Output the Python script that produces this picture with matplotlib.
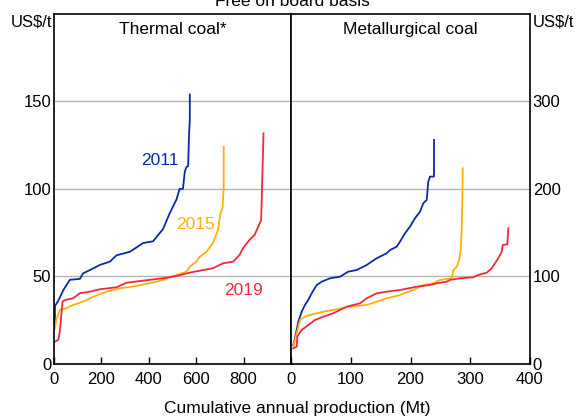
import matplotlib
matplotlib.use("Agg")
import matplotlib.pyplot as plt

plt.rcParams['font.family'] = ['Liberation Sans', 'DejaVu Sans']

# ---- Data (cumulative production Mt, cost US$/t) ----
thermal_2011_x = [4, 4, 18, 39, 67, 109, 123, 152, 194, 236, 264, 320, 376, 418, 460, 488, 517, 530, 544, 552, 559, 566, 570, 573, 573]
thermal_2011_y = [21, 33, 36, 42, 48, 48.5, 51.7, 53.6, 56.5, 58.4, 62, 64, 69, 70, 77, 86, 94, 100, 100, 110, 112.5, 113, 132, 139, 154]

thermal_2015_x = [4, 11, 25, 53, 81, 123, 165, 222, 278, 348, 404, 460, 517, 559, 573, 601, 615, 643, 671, 692, 702, 711, 716, 716]
thermal_2015_y = [20, 26, 30.7, 31.7, 33.6, 35.5, 38.3, 41.2, 43.1, 44.5, 46, 47.9, 50.7, 52.6, 55.5, 58.4, 61.2, 64, 69, 76.5, 86, 89, 101, 124]

thermal_2019_x = [4, 18, 25, 36, 46, 81, 109, 152, 194, 264, 306, 376, 460, 517, 573, 615, 671, 713, 756, 783, 797, 825, 846, 856, 867, 874, 878, 881, 884]
thermal_2019_y = [12.6, 13.6, 19, 35.5, 36.4, 37.4, 40.3, 41.2, 42.6, 43.7, 46.3, 47.5, 48.9, 50.2, 52.1, 53.2, 54.6, 57.4, 58.4, 62.2, 66, 70.8, 73.6, 76.5, 80, 82.2, 101, 116.5, 131.8]

met_2011_x = [3.8, 6.7, 9.5, 12.2, 17.9, 23.4, 28.9, 34.6, 43, 51.4, 65.3, 82, 95.9, 110, 126.7, 143.4, 160.1, 165.7, 176.9, 182.4, 190.8, 199.2, 207.5, 215.9, 221.4, 227.1, 229.8, 232.6, 239.3, 239.3]
met_2011_y = [21.4, 29, 38.6, 48, 59.5, 67.2, 72.9, 80.5, 90, 93.8, 97.7, 99.5, 105.3, 107.2, 112.9, 120.6, 126.3, 130, 133.9, 139.6, 149.2, 156.8, 166.4, 173.9, 183.5, 187.3, 208.2, 214, 214, 256]

met_2015_x = [3.8, 9.5, 15.1, 23.4, 31.8, 54.1, 76.5, 98.7, 126.7, 143.4, 160.1, 182.4, 204.7, 221.4, 238.2, 249.4, 269, 271.6, 277.3, 281.6, 284, 285.7, 286.7, 287.4]
met_2015_y = [19.5, 34.8, 50, 53.8, 55.7, 59.5, 62.2, 65.2, 67.2, 70.9, 74.8, 78.6, 84.3, 90, 92, 95.8, 97.7, 107.2, 111, 118.6, 130, 153, 187.3, 223.6]

met_2019_x = [3.8, 9.5, 10.5, 17.9, 29, 40.2, 54.1, 70.8, 93.2, 115.5, 126.7, 143.4, 160.1, 182.4, 210.4, 232.6, 243.8, 260.6, 266.1, 282.8, 305.1, 313.5, 327.5, 335.9, 341.4, 347, 352.7, 354.4, 362.1, 363.8]
met_2019_y = [17.6, 19.5, 30.9, 38.6, 44.3, 50, 53.8, 57.7, 65.2, 69.1, 74.8, 80.5, 82.4, 84.3, 88.1, 90, 92, 93.8, 95.8, 97.7, 98.8, 101.5, 104.1, 109.1, 114.9, 120.6, 128.1, 135.8, 136.6, 154.9]

left_xticks = [0, 200, 400, 600, 800]
right_xticks = [0, 100, 200, 300, 400]
left_yticks = [0, 50, 100, 150]
right_yticks = [0, 100, 200, 300]

C2011 = '#0b2aa8'
C2015 = '#ffb10a'
C2019 = '#f4283c'

W, H = 579, 418
fig = plt.figure(figsize=(W / 100, H / 100), dpi=100)

x0, xm, x1 = 54, 291, 530
ytop, ybot = 14, 363.7
b = 1 - ybot / H
h = (ybot - ytop) / H
axL = fig.add_axes([x0 / W, b, (xm - x0) / W, h])
axR = fig.add_axes([xm / W, b, (x1 - xm) / W, h])

FS = 12.5
TFS = 12
lw = 1.3

axL.plot(thermal_2011_x, thermal_2011_y, color=C2011, lw=lw)
axL.plot(thermal_2015_x, thermal_2015_y, color=C2015, lw=lw)
axL.plot(thermal_2019_x, thermal_2019_y, color=C2019, lw=lw)
axR.plot(met_2011_x, met_2011_y, color=C2011, lw=lw)
axR.plot(met_2015_x, met_2015_y, color=C2015, lw=lw)
axR.plot(met_2019_x, met_2019_y, color=C2019, lw=lw)

axL.set_xlim(0, 1000)
axL.set_ylim(0, 200)
axR.set_xlim(0, 400)
axR.set_ylim(0, 400)

for ax in (axL, axR):
    for s in ax.spines.values():
        s.set_color('black')
        s.set_linewidth(1.2)
    ax.grid(axis='y', color='#b5b5b5', lw=1)
    ax.set_axisbelow(True)
    ax.tick_params(axis='x', direction='in', length=5, width=1, labelsize=TFS, pad=6)
    ax.tick_params(axis='y', length=0, labelsize=TFS)

axL.set_xticks(left_xticks)
axR.set_xticks(right_xticks)
axL.set_yticks(left_yticks)
axR.set_yticks(right_yticks)
axL.set_yticklabels([str(v) for v in left_yticks])
axR.yaxis.tick_right()
axR.set_yticklabels([str(v) for v in right_yticks])
axL.tick_params(axis='y', pad=2)
axR.tick_params(axis='y', pad=2, left=False, labelleft=False, right=False)

axL.text(0.5, 0.955, 'Thermal coal*', transform=axL.transAxes, ha='center', va='center', fontsize=FS)
axR.text(0.5, 0.955, 'Metallurgical coal', transform=axR.transAxes, ha='center', va='center', fontsize=FS)

fig.text(52 / W, 1 - 22 / H, 'US$/t', ha='right', va='center', fontsize=TFS)
fig.text(533 / W, 1 - 22 / H, 'US$/t', ha='left', va='center', fontsize=TFS)
fig.text(292 / W, 1 - 6 / H, 'Free on board basis', ha='center', va='baseline', fontsize=FS)
fig.text(297 / W, 1 - 409 / H, 'Cumulative annual production (Mt)', ha='center', va='center', fontsize=FS)

axL.text(445, 116, '2011', color=C2011, ha='center', va='center', fontsize=FS)
axL.text(597, 79.5, '2015', color=C2015, ha='center', va='center', fontsize=FS)
axL.text(800, 41.6, '2019', color=C2019, ha='center', va='center', fontsize=FS)

fig.savefig('out.png', dpi=100)
